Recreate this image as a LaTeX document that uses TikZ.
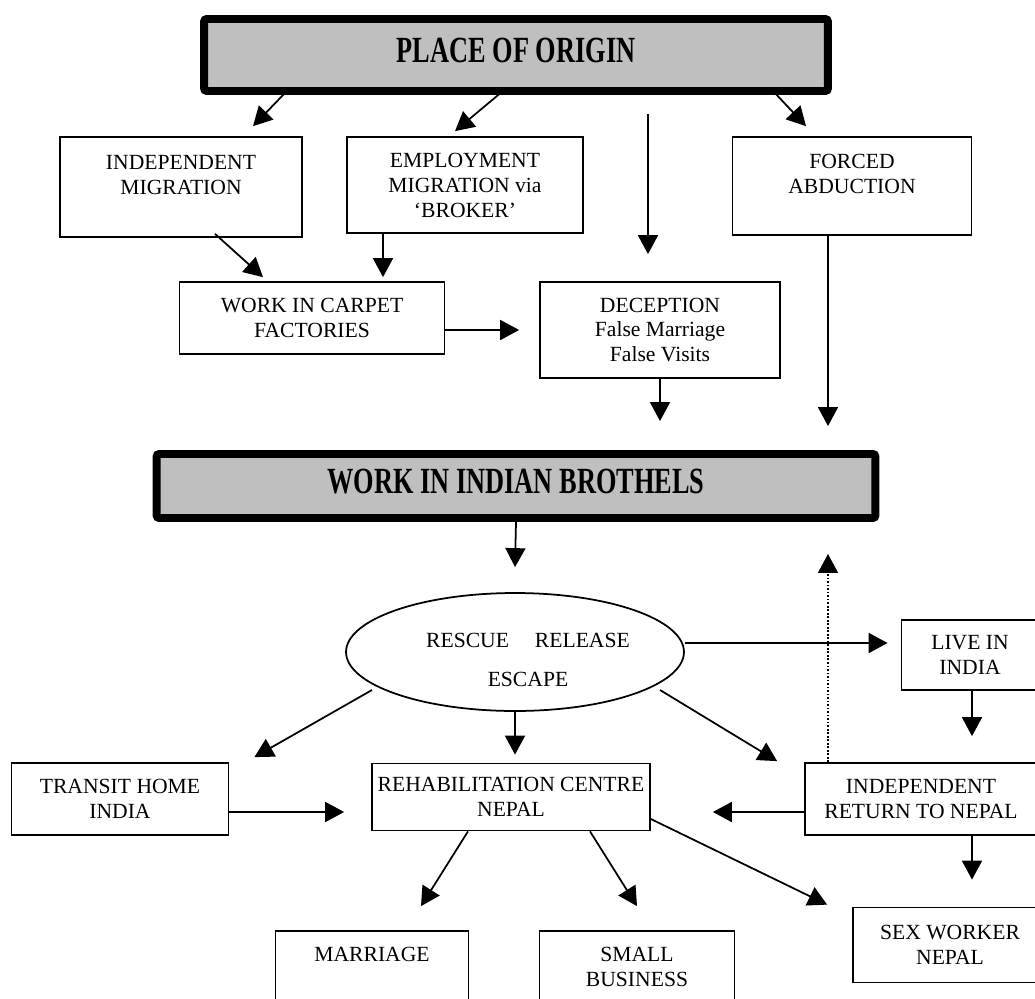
\documentclass[tikz,border=0pt]{standalone}
\usepackage{fontspec}
\usepackage{graphicx}
\setmainfont{Liberation Serif}
\usetikzlibrary{arrows.meta,shapes.geometric}

\newcommand{\grand}[1]{\scalebox{1}[1.4]{#1}}

\tikzset{cadre/.style = {draw, line width=1pt, align=center, inner sep=0pt,
                         font=\fontsize{12.3}{14.2}\selectfont},
         titre/.style = {draw, line width=4.5pt, rounded corners=1.5pt, fill=gray!50,
                         text depth=0.2cm, font=\bfseries\fontsize{15}{18}\selectfont},
         fleche/.style = {line width=1pt, -{Triangle[length=0.38cm, width=0.4cm]}}
        }

\begin{document}
\begin{tikzpicture}[x=0.02cm, y=-0.02cm]
\useasboundingbox (0,0) rectangle (1035,998);
\clip (0,0) rectangle (1035,998);
% boites
\node[titre, minimum width=12.48cm, minimum height=1.44cm] at (516,55) (orig) {\grand{PLACE OF ORIGIN}};
\node[cadre, minimum width=4.84cm, minimum height=2cm] at (181,187) (migr) {INDEPENDENT\\MIGRATION\\\mbox{}};
\node[cadre, minimum width=4.72cm, minimum height=1.92cm] at (465,185) (empl) {EMPLOYMENT\\MIGRATION via\\`BROKER'};
\node[cadre, minimum width=4.78cm, minimum height=1.96cm] at (852,186) (enlev) {FORCED\\ABDUCTION\\\mbox{}};
\node[cadre, minimum width=5.3cm, minimum height=1.44cm] at (312,318) (tapis) {WORK IN CARPET\\FACTORIES};
\node[cadre, minimum width=4.8cm, minimum height=1.92cm] at (660,330) (trompe) {DECEPTION\\False Marriage\\False Visits};
\node[titre, minimum width=14.38cm, minimum height=1.28cm] at (516,486) (broth) {\grand{WORK IN INDIAN BROTHELS}};
\node[cadre, ellipse, minimum width=6.76cm, minimum height=2.36cm] at (515,652) (sauv)
  {\hspace*{14.8pt}\rule{0pt}{17pt}RESCUE\hspace{1.2em}RELEASE\\[8pt]\hspace*{14.8pt}ESCAPE};
\node[cadre, minimum width=2.74cm, minimum height=1.4cm] at (970,655) (inde) {LIVE IN\\INDIA};
\node[cadre, minimum width=4.64cm, minimum height=1.44cm] at (921,799) (ret) {INDEPENDENT\\RETURN TO NEPAL};
\node[cadre, minimum width=3.88cm, minimum height=1.5cm] at (950,945) (sexw) {SEX WORKER\\NEPAL};
\node[cadre, minimum width=4.34cm, minimum height=1.44cm] at (120,799) (transit) {TRANSIT HOME\\INDIA};
\node[cadre, minimum width=5.56cm, minimum height=1.34cm] at (511,797) (rehab) {REHABILITATION CENTRE\\NEPAL};
\node[cadre, minimum width=3.86cm, minimum height=1.92cm] at (372,979) (mar) {MARRIAGE\\\mbox{}\\\mbox{}};
\node[cadre, minimum width=3.9cm, minimum height=1.92cm] at (637,979) (comm) {SMALL\\BUSINESS\\\mbox{}};
% fleches
\draw[fleche] ([shift={(-229,-4)}]orig.south) -- ([shift={(72,-10)}]migr.north);
\draw[fleche] ([shift={(-13,-4)}]orig.south) -- ([shift={(-10,-5)}]empl.north);
\draw[fleche] ([shift={(257,-4)}]orig.south) -- ([shift={(-46,-10)}]enlev.north);
\draw[fleche] ([shift={(132,19)}]orig.south) -- ([shift={(-12,-27)}]trompe.north);
\draw[fleche] ([shift={(34,-4)}]migr.south) -- ([shift={(-49,-4)}]tapis.north);
\draw[fleche] ([shift={(-82,0)}]empl.south) -- ([shift={(71,-4)}]tapis.north);
\draw[fleche] ([shift={(0,12)}]tapis.east) -- ([shift={(-20,0)}]trompe.west);
\draw[fleche] (trompe.south) -- ([shift={(144,-29)}]broth.north);
\draw[fleche] ([shift={(-24,0)}]enlev.south) -- ([shift={(312,-24)}]broth.north);
\draw[fleche] (broth.south) -- ([shift={(0,-25)}]sauv.north);
\draw[fleche] ([shift={(0,-9)}]sauv.east) -- ([shift={(-13,-12)}]inde.west);
\draw[fleche, densely dotted, line width=0.7pt] ([shift={(-93,0)}]ret.north) -- ([shift={(312,32)}]broth.south);
\draw[fleche] ([shift={(2,0)}]inde.south) -- ([shift={(51,-26)}]ret.north);
\draw[fleche] ([shift={(-143,38)}]sauv.center) -- ([shift={(25,-5)}]transit.north east);
\draw[fleche] (sauv.south) -- ([shift={(4,-8)}]rehab.north);
\draw[fleche] ([shift={(145,38)}]sauv.center) -- ([shift={(-27,-1)}]ret.north west);
\draw[fleche] ([shift={(0,13)}]transit.east) -- ([shift={(-27,15)}]rehab.west);
\draw[fleche] ([shift={(0,13)}]ret.west) -- ([shift={(62,15)}]rehab.east);
\draw[fleche] ([shift={(51,0)}]ret.south) -- ([shift={(22,-27)}]sexw.north);
\draw[fleche] ([shift={(-43,0)}]rehab.south) -- ([shift={(49,-24)}]mar.north);
\draw[fleche] ([shift={(79,0)}]rehab.south) -- ([shift={(0,-24)}]comm.north);
\draw[fleche] ([shift={(0,22)}]rehab.east) -- ([shift={(-25,-2)}]sexw.north west);
\end{tikzpicture}
\end{document}
